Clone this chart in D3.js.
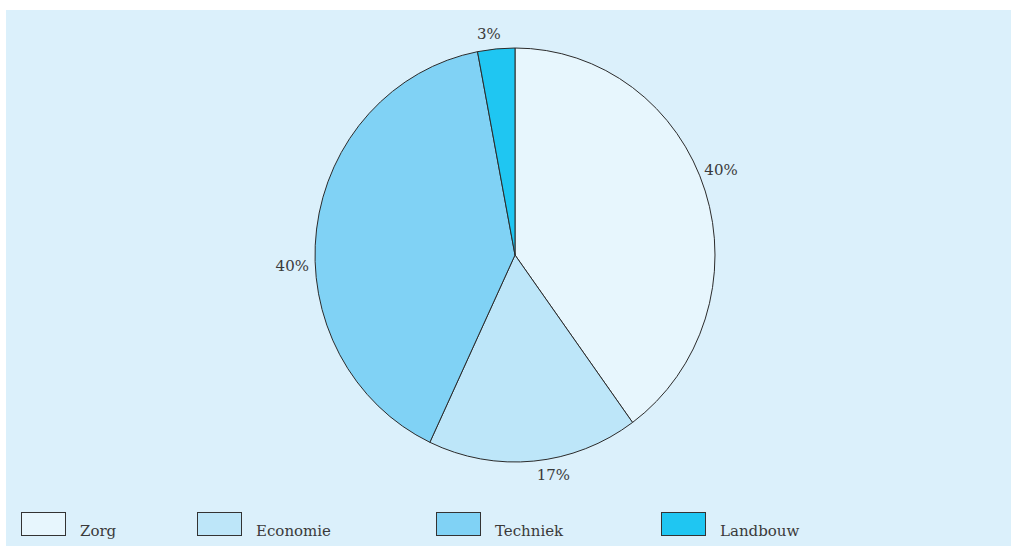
<!DOCTYPE html>
<html lang="nl">
<head>
<meta charset="UTF-8">
<title>Sectoren</title>
<script src="https://cdn.jsdelivr.net/npm/d3@7"></script>
<style>
  html, body { margin: 0; padding: 0; background: #fff; }
  svg { display: block; }
  .lbl { font-family: "DejaVu Serif", serif; font-size: 15px; fill: #3a3a3a; }
  .leg { font-family: "DejaVu Serif", serif; font-size: 15px; fill: #3a3a3a; }
</style>
</head>
<body>
<svg id="chart" width="1011" height="546"></svg>
<script>
// Gegevens
const categories = ['Zorg', 'Economie', 'Techniek', 'Landbouw'];
const values = [40, 17, 40, 3];
const colors = ['#e7f6fd', '#bde6f9', '#80d2f5', '#1fc6f2'];

// Opmaak
const W = 1011, H = 546;
const cx = 515, cy = 255, R = 200, yStretch = 1.035;
const labelR = 223;
const labelShift = [-4.5, -4.5, -10, -1.3];   // graden, labels iets verschoven
const legendX = [21, 197, 436, 661];

const svg = d3.select('#chart');

// Achtergrondpaneel
svg.append('rect')
  .attr('x', 6).attr('y', 10)
  .attr('width', W - 6).attr('height', H - 10)
  .attr('fill', '#dbf0fb');

const pie = d3.pie().sort(null).value(d => d);
const arcs = pie(values);
const arc = d3.arc().innerRadius(0).outerRadius(R);

const g = svg.append('g')
  .attr('transform', `translate(${cx},${cy}) scale(1,${yStretch})`);

g.selectAll('path')
  .data(arcs)
  .enter()
  .append('path')
  .attr('d', arc)
  .attr('fill', (d, i) => colors[i])
  .attr('stroke', '#2b2b2b')
  .attr('stroke-width', 1)
  .attr('vector-effect', 'non-scaling-stroke');

// Percentages buiten de taart
arcs.forEach((d, i) => {
  const a = (d.startAngle + d.endAngle) / 2 + labelShift[i] * Math.PI / 180;
  svg.append('text')
    .attr('class', 'lbl')
    .attr('x', cx + labelR * Math.sin(a))
    .attr('y', cy - labelR * Math.cos(a) + 5)
    .attr('text-anchor', 'middle')
    .text(values[i] + '%');
});

// Legenda
const leg = svg.selectAll('.legend-item')
  .data(categories)
  .enter()
  .append('g')
  .attr('class', 'legend-item')
  .attr('transform', (d, i) => `translate(${legendX[i]},512)`);

leg.append('rect')
  .attr('x', 0.5).attr('y', 0.5)
  .attr('width', 44).attr('height', 23)
  .attr('fill', (d, i) => colors[i])
  .attr('stroke', '#333')
  .attr('stroke-width', 1);

leg.append('text')
  .attr('class', 'leg')
  .attr('x', 59)
  .attr('y', 24)
  .text(d => d);
</script>
</body>
</html>
